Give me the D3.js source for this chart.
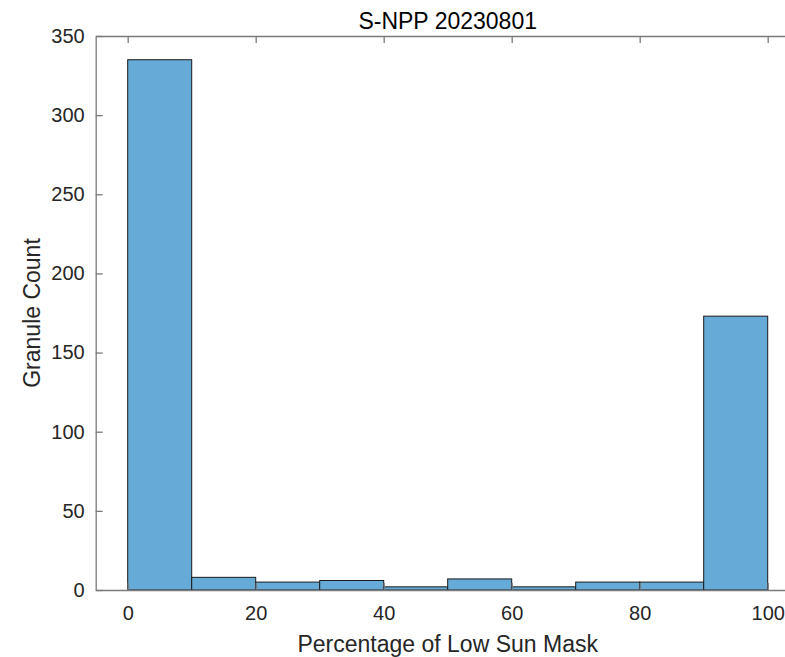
<!DOCTYPE html>
<html>
<head>
<meta charset="utf-8">
<script src="https://cdn.jsdelivr.net/npm/d3@7"></script>
<style>
  body { margin: 0; background: #fff; }
  svg { display: block; font-family: "Liberation Sans", Arial, sans-serif; }
</style>
</head>
<body>
<svg id="chart" width="785" height="657"></svg>
<script>
// Histogram bins (percent of low-sun mask) and granule counts per bin
const binEdges = [0, 10, 20, 30, 40, 50, 60, 70, 80, 90, 100];
const counts = [335, 8, 5, 6, 2, 7, 2, 5, 5, 173];
const xTicks = [0, 20, 40, 60, 80, 100];
const yTicks = [0, 50, 100, 150, 200, 250, 300, 350];
const title = "S-NPP 20230801";
const xLabel = "Percentage of Low Sun Mask";
const yLabel = "Granule Count";

const svg = d3.select("#chart");
const plotLeft = 95.7, plotRight = 799.7, plotTop = 36, plotBottom = 590;

const x = d3.scaleLinear().domain([-5, 105]).range([plotLeft, plotRight]);
const y = d3.scaleLinear().domain([0, 350]).range([plotBottom, plotTop]);

const axisColor = "#262626";
const lineColor = "#7a7a7a";

// Bars
const bins = counts.map((c, i) => ({ x0: binEdges[i], x1: binEdges[i + 1], c }));
svg.append("g").selectAll("rect").data(bins).join("rect")
  .attr("x", d => x(d.x0))
  .attr("y", d => y(d.c))
  .attr("width", d => x(d.x1) - x(d.x0))
  .attr("height", d => y(0) - y(d.c))
  .attr("fill", "#66aad7")
  .attr("stroke", "#1a1a1a")
  .attr("stroke-width", 1);

// Axes with inward ticks
const tickLen = 7;
const xAxisB = d3.axisBottom(x).tickValues(xTicks).tickSizeInner(-tickLen).tickSizeOuter(0).tickPadding(16);
const xAxisT = d3.axisTop(x).tickValues(xTicks).tickSizeInner(-tickLen).tickSizeOuter(0).tickFormat("");
const yAxisL = d3.axisLeft(y).tickValues(yTicks).tickSizeInner(-tickLen).tickSizeOuter(0).tickPadding(11);

function style(g) {
  g.select(".domain").attr("stroke", lineColor).attr("stroke-width", 1.3);
  g.selectAll(".tick line").attr("stroke", lineColor).attr("stroke-width", 1.3);
  g.selectAll(".tick text").attr("fill", axisColor).attr("font-size", 20)
    .attr("font-family", "Liberation Sans, Arial, sans-serif");
}

svg.append("g").attr("transform", `translate(0,${plotBottom})`).call(xAxisB).call(style);
svg.append("g").attr("transform", `translate(0,${plotTop})`).call(xAxisT).call(style);
svg.append("g").attr("transform", `translate(${plotLeft},0)`).call(yAxisL).call(style);

// Title and axis labels
svg.append("text").attr("x", (plotLeft + plotRight) / 2).attr("y", 29)
  .attr("text-anchor", "middle").attr("font-size", 23).attr("fill", "#000")
  .text(title);
svg.append("text").attr("x", (plotLeft + plotRight) / 2).attr("y", 652)
  .attr("text-anchor", "middle").attr("font-size", 23).attr("fill", axisColor)
  .text(xLabel);
svg.append("text").attr("transform", `translate(40,${(plotTop + plotBottom) / 2}) rotate(-90)`)
  .attr("text-anchor", "middle").attr("font-size", 23).attr("fill", axisColor)
  .text(yLabel);
</script>
</body>
</html>
